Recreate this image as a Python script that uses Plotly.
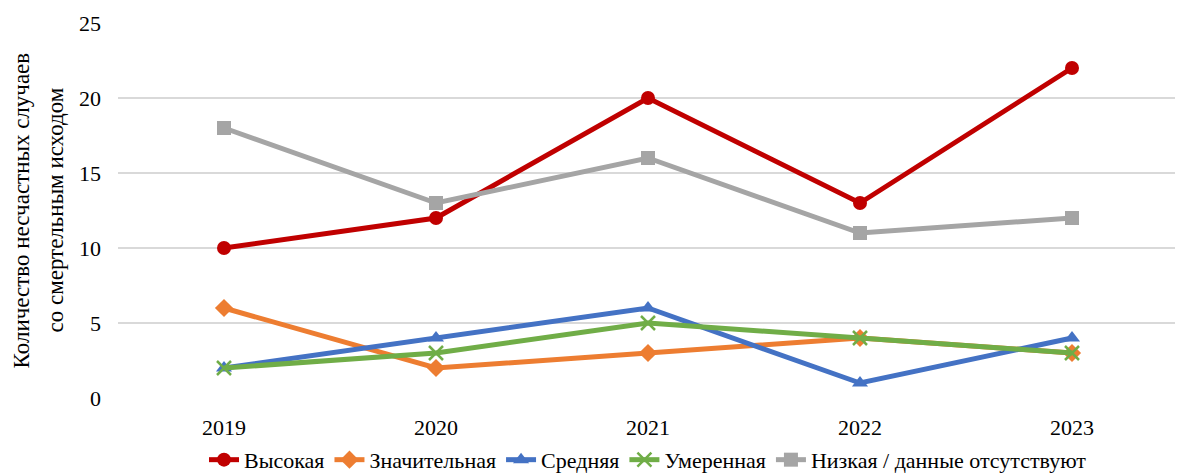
import plotly.graph_objects as go

years = ["2019", "2020", "2021", "2022", "2023"]

series_names = [
    "Высокая",
    "Значительная",
    "Средняя",
    "Умеренная",
    "Низкая / данные отсутствуют",
]
vysokaya = [10, 12, 20, 13, 22]
znachitelnaya = [6, 2, 3, 4, 3]
srednyaya = [2, 4, 6, 1, 4]
umerennaya = [2, 3, 5, 4, 3]
nizkaya = [18, 13, 16, 11, 12]

y_title_lines = ["Количество несчастных случаев", "со смертельным исходом"]

colors = ["#C00000", "#ED7D31", "#4472C4", "#70AD47", "#A5A5A5"]
symbols = ["circle", "diamond", "triangle-up", "x-thin", "square"]

FONT = "Liberation Serif"

fig = go.Figure()
for name, values, color, symbol in zip(series_names,
                                       [vysokaya, znachitelnaya, srednyaya, umerennaya, nizkaya],
                                       colors, symbols):
    marker = dict(symbol=symbol, size=14, color=color)
    if symbol == "x-thin":
        marker.update(line=dict(color=color, width=2.5), size=14)
    fig.add_trace(go.Scatter(
        x=years, y=values, name=name, mode="lines+markers",
        line=dict(color=color, width=5),
        marker=marker,
    ))

# y axis title as two rotated lines (wider line spacing than <br>)
for x_pos, line in zip([-0.0906, -0.0594], y_title_lines):
    fig.add_annotation(
        text=line, textangle=-90, showarrow=False,
        xref="paper", yref="paper", x=x_pos, y=0.5,
        xanchor="center", yanchor="middle",
        font=dict(family=FONT, size=23, color="black"),
    )

# the page body has an 8px margin, so the figure is 8px smaller and margins shifted
fig.update_layout(
    width=1175, height=468,
    margin=dict(l=110, r=5, t=15, b=78, autoexpand=False),
    plot_bgcolor="white",
    paper_bgcolor="white",
    font=dict(family=FONT, size=22, color="black"),
    xaxis=dict(
        type="category",
        range=[-0.5, 4.5],
        showgrid=False,
        showline=False,
        zeroline=False,
        ticks="",
        ticklabelstandoff=14,
        tickfont=dict(family=FONT, size=22, color="black"),
    ),
    yaxis=dict(
        range=[0, 25],
        dtick=5,
        showgrid=True,
        gridcolor="#D9D9D9",
        gridwidth=2,
        zeroline=False,
        showline=False,
        ticks="",
        ticklabelstandoff=16,
        tickfont=dict(family=FONT, size=22, color="black"),
    ),
    legend=dict(
        orientation="h",
        x=0.5, xanchor="center",
        y=-0.165, yanchor="middle",
        font=dict(family=FONT, size=22, color="black"),
        itemwidth=30,
        tracegroupgap=0,
    ),
)

fig.write_html("out.html")
